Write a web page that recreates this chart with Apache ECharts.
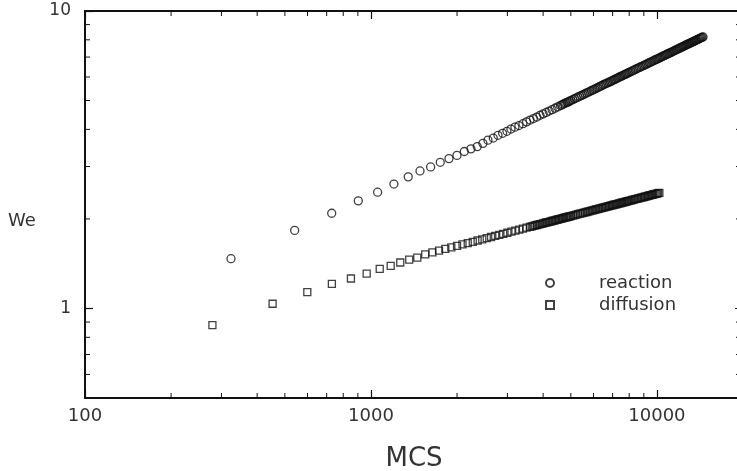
<!DOCTYPE html>
<html>
<head>
<meta charset="utf-8">
<script src="https://cdn.jsdelivr.net/npm/echarts@6/dist/echarts.min.js"></script>
<style>
  html, body { margin: 0; padding: 0; background: #fff; }
  #chart { width: 737px; height: 471px; }
</style>
</head>
<body>
<div id="chart"></div>
<script>
// reaction (circles)
const reactionMCS = [324, 541, 729, 903, 1055, 1203, 1350, 1484, 1617, 1747, 1874, 1999, 2120, 2237, 2353, 2463, 2565, 2677, 2781, 2887, 2989, 3087, 3188, 3292,
  3400, 3500, 3600, 3700, 3800, 3900, 4000, 4100, 4200, 4300, 4400, 4500, 4600,
  4650, 4700, 4750, 4800, 4850, 4900, 4950, 5000,
  5075, 5150, 5225, 5300, 5375, 5450, 5525, 5600, 5675, 5750, 5825, 5900, 5975, 6050, 6125, 6200, 6275, 6350, 6425, 6500,
  6575, 6650, 6725, 6800, 6875, 6950, 7025, 7100, 7175, 7250, 7325, 7400, 7475, 7550, 7625, 7700, 7775, 7850, 7925, 8000,
  8100, 8200, 8300, 8400, 8500, 8600, 8700, 8800, 8900, 9000, 9100, 9200, 9300, 9400, 9500, 9600, 9700, 9800, 9900, 10000,
  10100, 10200, 10300, 10400, 10500, 10600, 10700, 10800, 10900, 11000, 11100, 11200, 11300, 11400, 11500, 11600, 11700, 11800, 11900, 12000,
  12100, 12200, 12300, 12400, 12500, 12600, 12700, 12800, 12900, 13000, 13100, 13200, 13300, 13400, 13500, 13600, 13700, 13800, 13900, 14000,
  14100, 14200, 14300, 14400, 14500];
const reactionWe = [1.47, 1.83, 2.09, 2.30, 2.46, 2.62, 2.77, 2.90, 2.99, 3.10, 3.19, 3.27, 3.37, 3.44, 3.50, 3.59, 3.68, 3.74, 3.82, 3.88, 3.94, 4.01, 4.07, 4.12,
  4.18, 4.24, 4.30, 4.35, 4.40, 4.46, 4.51, 4.56, 4.61, 4.66, 4.71, 4.76, 4.81,
  4.835, 4.86, 4.885, 4.91, 4.93, 4.95, 4.975, 5.00,
  5.035, 5.07, 5.105, 5.14, 5.17, 5.20, 5.235, 5.27, 5.30, 5.33, 5.365, 5.40, 5.43, 5.46, 5.49, 5.52, 5.555, 5.59, 5.62, 5.65,
  5.68, 5.71, 5.735, 5.76, 5.79, 5.82, 5.85, 5.88, 5.91, 5.94, 5.97, 6.00, 6.025, 6.05, 6.08, 6.11, 6.135, 6.16, 6.19, 6.22,
  6.255, 6.29, 6.325, 6.36, 6.395, 6.43, 6.465, 6.50, 6.53, 6.56, 6.595, 6.63, 6.665, 6.70, 6.73, 6.76, 6.795, 6.83, 6.86, 6.89,
  6.92, 6.95, 6.985, 7.02, 7.05, 7.08, 7.11, 7.14, 7.17, 7.20, 7.23, 7.26, 7.29, 7.32, 7.35, 7.38, 7.41, 7.44, 7.47, 7.50,
  7.53, 7.56, 7.585, 7.61, 7.64, 7.67, 7.70, 7.73, 7.755, 7.78, 7.81, 7.84, 7.865, 7.89, 7.92, 7.95, 7.975, 8.00, 8.025, 8.05,
  8.08, 8.11, 8.135, 8.16, 8.18];

// diffusion (squares)
const diffusionMCS = [279, 453, 599, 730, 851, 966, 1073, 1172, 1266, 1361, 1452, 1548,
  1640, 1730, 1820, 1910, 2000, 2090, 2180, 2270, 2360, 2450, 2540, 2630, 2720, 2810, 2900,
  3000, 3100, 3200, 3300, 3400, 3500, 3600,
  3650, 3700, 3750, 3800, 3850, 3900, 3950, 4000, 4050, 4100, 4150, 4200, 4250, 4300, 4350, 4400, 4450, 4500, 4550, 4600,
  4650, 4700, 4750, 4800, 4850, 4900, 4950, 5000,
  5075, 5150, 5225, 5300, 5375, 5450, 5525, 5600, 5675, 5750, 5825, 5900, 5975, 6050, 6125, 6200, 6275, 6350, 6425, 6500,
  6575, 6650, 6725, 6800, 6875, 6950, 7025, 7100, 7175, 7250, 7325, 7400, 7475, 7550, 7625, 7700, 7775, 7850, 7925, 8000,
  8100, 8200, 8300, 8400, 8500, 8600, 8700, 8800, 8900, 9000, 9100, 9200, 9300, 9400, 9500, 9600, 9700, 9800, 9900, 10000,
  10100, 10200];
const diffusionWe = [0.879, 1.037, 1.134, 1.21, 1.261, 1.31, 1.359, 1.391, 1.427, 1.46, 1.483, 1.521,
  1.544, 1.564, 1.585, 1.604, 1.623, 1.641, 1.658, 1.675, 1.692, 1.708, 1.723, 1.739, 1.753, 1.768, 1.782,
  1.797, 1.812, 1.826, 1.841, 1.855, 1.869, 1.881,
  1.888, 1.895, 1.902, 1.908, 1.914, 1.920, 1.926, 1.932, 1.939, 1.945, 1.951, 1.956, 1.962, 1.968, 1.974, 1.979, 1.985, 1.991, 1.997, 2.002,
  2.007, 2.012, 2.018, 2.023, 2.029, 2.034, 2.039, 2.044,
  2.052, 2.059, 2.067, 2.074, 2.082, 2.089, 2.096, 2.103, 2.110, 2.117, 2.124, 2.131, 2.138, 2.145, 2.152, 2.158, 2.165, 2.171, 2.178, 2.184,
  2.190, 2.196, 2.203, 2.209, 2.215, 2.221, 2.227, 2.233, 2.239, 2.244, 2.250, 2.256, 2.262, 2.268, 2.274, 2.279, 2.285, 2.290, 2.296, 2.301,
  2.308, 2.315, 2.323, 2.330, 2.337, 2.343, 2.350, 2.357, 2.364, 2.370, 2.377, 2.383, 2.390, 2.397, 2.403, 2.409, 2.416, 2.422, 2.428, 2.434,
  2.440, 2.446];

// axis ranges and minor tick positions
const xRange = [100, 20000];
const yRange = [0.5, 10];
const xMinorTicks = [200, 300, 400, 500, 600, 700, 800, 900, 2000, 3000, 4000, 5000, 6000, 7000, 8000, 9000];
const yMinorTicks = [0.6, 0.7, 0.8, 0.9, 2, 3, 4, 5, 6, 7, 8, 9];

const FONT = 'DejaVu Sans';
const INK = '#111';

const chart = echarts.init(document.getElementById('chart'));

const zip = (xs, ys) => xs.map((x, i) => [x, ys[i]]);

// short tick marks drawn through the axes' own scale
function tickSeries(points, dx, dy) {
    return {
        type: 'custom',
        silent: true,
        clip: false,
        z: 5,
        data: points,
        renderItem: (params, api) => {
            const p = api.coord([api.value(0), api.value(1)]);
            return {
                type: 'line',
                shape: { x1: p[0], y1: p[1], x2: p[0] + dx, y2: p[1] + dy },
                style: { stroke: INK, lineWidth: 1 }
            };
        }
    };
}

const plainNumber = v => String(+Number(v).toPrecision(6));
const axisLabelStyle = { fontFamily: FONT, fontSize: 18, color: '#333', formatter: plainNumber };

const baseAxis = {
    type: 'log',
    logBase: 10,
    splitLine: { show: false },
    axisLine: { show: true, lineStyle: { color: INK, width: 2 } },
    axisTick: { show: true, inside: true, length: 8, lineStyle: { color: INK, width: 1.2 } }
};

const option = {
    animation: false,
    backgroundColor: '#fff',
    // plot box runs a little past the right edge of the window, as in the original
    grid: { left: 85, width: 658, top: 11, height: 387, outerBoundsMode: 'none', containLabel: false },
    xAxis: [
        {
            ...baseAxis,
            min: xRange[0], max: xRange[1],
            position: 'bottom',
            name: 'MCS',
            nameLocation: 'middle',
            nameGap: 48,
            nameTextStyle: { fontFamily: FONT, fontSize: 26, color: '#333' },
            axisLabel: { ...axisLabelStyle, margin: 9, showMaxLabel: false }
        },
        {
            ...baseAxis,
            min: xRange[0], max: xRange[1],
            position: 'top',
            axisLabel: { show: false }
        }
    ],
    yAxis: [
        {
            ...baseAxis,
            min: yRange[0], max: yRange[1],
            position: 'left',
            axisLabel: { ...axisLabelStyle, fontSize: 17, margin: 14, showMinLabel: false }
        },
        {
            ...baseAxis,
            min: yRange[0], max: yRange[1],
            position: 'right',
            axisLabel: { show: false }
        }
    ],
    legend: {
        data: ['reaction', 'diffusion'],
        orient: 'vertical',
        left: 540,
        top: 268,
        itemWidth: 8,
        itemHeight: 8,
        itemGap: 2,
        textStyle: { fontFamily: FONT, fontSize: 18, color: '#333', lineHeight: 20, padding: [0, 0, 0, 40] }
    },
    graphic: [
        {
            type: 'text',
            left: 8,
            top: 212,
            style: { text: 'We', font: '18px "DejaVu Sans"', fill: '#333' }
        }
    ],
    series: [
        {
            name: 'reaction',
            type: 'scatter',
            symbol: 'circle',
            symbolSize: 8,
            data: zip(reactionMCS, reactionWe),
            itemStyle: { color: 'rgba(0,0,0,0)', borderColor: INK, borderWidth: 1.3 },
            emphasis: { disabled: true }
        },
        {
            name: 'diffusion',
            type: 'scatter',
            symbol: 'rect',
            symbolSize: 7,
            data: zip(diffusionMCS, diffusionWe),
            itemStyle: { color: 'rgba(0,0,0,0)', borderColor: INK, borderWidth: 1.3 },
            emphasis: { disabled: true }
        },
        tickSeries(xMinorTicks.map(v => [v, yRange[0]]), 0, -5),
        tickSeries(xMinorTicks.map(v => [v, yRange[1]]), 0, 5),
        tickSeries(yMinorTicks.map(v => [xRange[0], v]), 5, 0),
        tickSeries(yMinorTicks.map(v => [xRange[1], v]), -7, 0)
    ]
};

chart.setOption(option);
</script>
</body>
</html>
